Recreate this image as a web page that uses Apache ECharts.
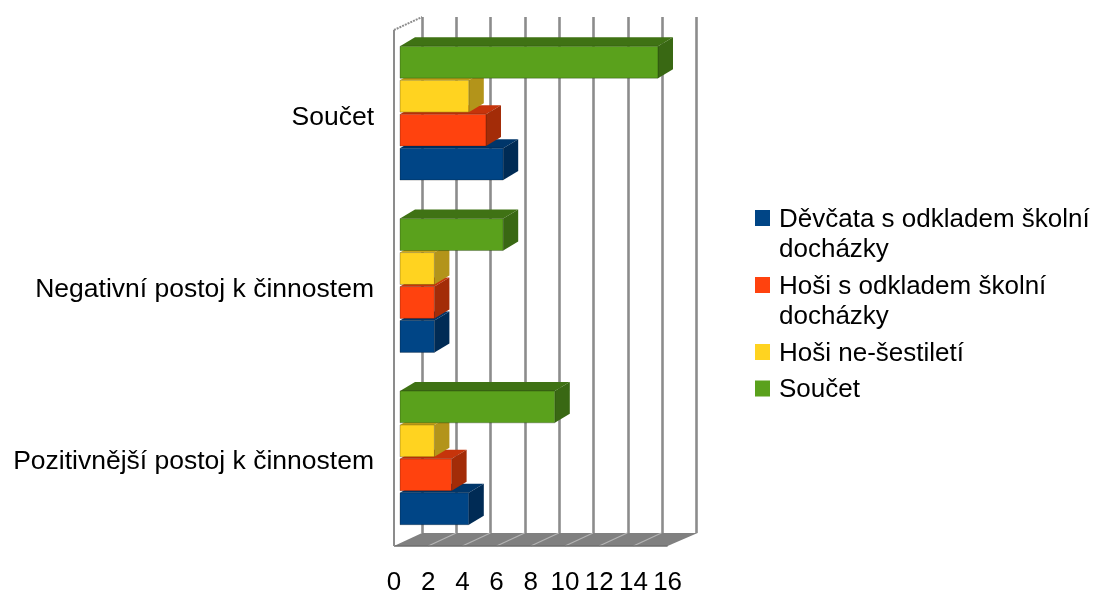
<!DOCTYPE html>
<html><head><meta charset="utf-8">
<style>html,body{margin:0;padding:0;background:#fff}#c{width:1094px;height:590px}</style>
<script src="https://cdn.jsdelivr.net/npm/echarts@6/dist/echarts.min.js"></script>
</head><body><div id="c"></div>
<script>
const categories = ['Pozitivnější postoj k činnostem', 'Negativní postoj k činnostem', 'Součet'];
const tickLabels = [0, 2, 4, 6, 8, 10, 12, 14, 16];
const devcata = [4, 2, 6];
const hosiOdklad = [3, 2, 5];
const hosiNeSest = [2, 2, 4];
const soucet = [9, 6, 15];
const seriesNames = ['Děvčata s odkladem školní docházky', 'Hoši s odkladem školní docházky', 'Hoši ne-šestiletí', 'Součet'];
const colors = ['#004586', '#ff420e', '#ffd320', '#5aa11c'];
const sideColors = ['#002b55', '#a32c08', '#b3941a', '#396813'];
const topColors = ['#00366a', '#c6340b', '#cda91a', '#3f7214'];
const font = '"Liberation Sans", Arial, sans-serif';
const txt = '#000';
const depthX = 28, depthY = -13;   // wall depth
const barDX = 15, barDY = -9;      // bar depth

function barRender(idx) {
  return function (params, api) {
    const cat = api.value(0), val = api.value(1);
    const band = api.size([0, 1])[1];
    const c = api.coord([0, cat]);
    const e = api.coord([val, cat]);
    const pitch = band * 0.197;
    const h = pitch * 0.94;
    const y = c[1] + (1.5 - idx) * pitch - h / 2;
    const x0 = c[0], x1 = e[0];
    const edge = 'rgba(0,0,0,0.25)';
    return {
      type: 'group',
      children: [
        { type: 'polygon', shape: { points: [[x0, y], [x0 + barDX, y + barDY], [x1 + barDX, y + barDY], [x1, y]] }, style: { fill: topColors[idx] } },
        { type: 'polygon', shape: { points: [[x1, y], [x1 + barDX, y + barDY], [x1 + barDX, y + h + barDY], [x1, y + h]] }, style: { fill: sideColors[idx] } },
        { type: 'rect', shape: { x: x0, y: y, width: x1 - x0, height: h }, style: { fill: colors[idx], stroke: edge, lineWidth: 1 } }
      ]
    };
  };
}
function barSeries(idx, arr) {
  return {
    type: 'custom', name: seriesNames[idx], xAxisIndex: 2, yAxisIndex: 2, z: 5,
    itemStyle: { color: colors[idx] },
    encode: { x: 1, y: 0 },
    data: arr.map((v, i) => [i, v]),
    renderItem: barRender(idx)
  };
}
function wallRender(params, api) {
  const a = api.coord([0, 0]), b = api.coord([16, 0]);
  const band = api.size([0, 1])[1];
  const bottom = a[1] + band / 2, top = bottom - band * 3;
  const x0 = a[0], x1 = b[0];
  const children = [
    { type: 'polygon', shape: { points: [[x0, bottom], [x0 + depthX, bottom + depthY], [x1 + depthX + 2, bottom + depthY], [x1, bottom]] }, style: { fill: '#808080' } }
  ];
  tickLabels.slice(1, -1).forEach(t => {
    const p = api.coord([t, 0])[0];
    children.push({ type: 'line', shape: { x1: p, y1: bottom, x2: p + depthX, y2: bottom + depthY }, style: { stroke: '#b4b4b4', lineWidth: 1.2 } });
  });
  children.push(
    { type: 'line', shape: { x1: x0, y1: bottom, x2: x1, y2: bottom }, style: { stroke: '#6e6e6e', lineWidth: 1.5 } },
    { type: 'line', shape: { x1: x0, y1: top, x2: x0, y2: bottom }, style: { stroke: '#8c8c8c', lineWidth: 2 } },
    { type: 'line', shape: { x1: x0, y1: top, x2: x0 + depthX, y2: top + depthY }, style: { stroke: '#8c8c8c', lineWidth: 2, lineDash: [2, 1] } }
  );
  return { type: 'group', children };
}
const option = {
  animation: false,
  backgroundColor: '#fff',
  textStyle: { fontFamily: font },
  grid: [
    { left: 394, top: 30, width: 273.6, height: 516, outerBoundsMode: 'none' },
    { left: 422, top: 17, width: 274.4, height: 516, outerBoundsMode: 'none' },
    { left: 400, top: 27, width: 275.2, height: 517, outerBoundsMode: 'none' },
    { left: 394, top: 32, width: 273.6, height: 516, outerBoundsMode: 'none' }
  ],
  xAxis: [
    { gridIndex: 0, type: 'value', min: 0, max: 16, interval: 2,
      axisLine: { show: false }, axisTick: { show: false }, splitLine: { show: false },
      axisLabel: { color: txt, fontSize: 26, fontFamily: font, margin: 24 } },
    { gridIndex: 1, type: 'value', min: 0, max: 16, interval: 2, axisLine: { show: false }, axisTick: { show: false }, axisLabel: { show: false },
      splitLine: { show: true, lineStyle: { color: '#8c8c8c', width: 2.6 } } },
    { gridIndex: 2, type: 'value', min: 0, max: 16, interval: 2, show: false },
    { gridIndex: 3, type: 'value', min: 0, max: 16, interval: 2, show: false }
  ],
  yAxis: [
    { gridIndex: 0, type: 'category', data: categories, show: false },
    { gridIndex: 1, type: 'category', data: categories, show: false },
    { gridIndex: 2, type: 'category', data: categories, show: false },
    { gridIndex: 3, type: 'category', data: categories, axisLine: { show: false }, axisTick: { show: false },
      axisLabel: { color: txt, fontSize: 26.5, fontFamily: font, margin: 20 } }
  ],
  legend: [
    { left: 750, top: 199.5, orient: 'vertical', itemWidth: 19, itemHeight: 60, itemGap: 7, selectedMode: false,
      icon: 'path://M0,5.5h15v16h-15zM0,0h19M0,60h19',
      data: seriesNames.slice(0, 2),
      formatter: n => n.replace(' docházky', '\ndocházky'),
      textStyle: { color: txt, fontSize: 26, fontFamily: font, lineHeight: 30 } },
    { left: 750, top: 333.5, orient: 'vertical', itemWidth: 19, itemHeight: 30, itemGap: 6.5, selectedMode: false,
      icon: 'path://M0,5.5h15v16h-15zM0,0h19M0,30h19',
      data: seriesNames.slice(2),
      textStyle: { color: txt, fontSize: 26, fontFamily: font, lineHeight: 30 } }
  ],
  series: [
    { type: 'custom', xAxisIndex: 0, yAxisIndex: 0, z: 1, silent: true, data: [[0, 0]], encode: { x: 0, y: 1 }, renderItem: wallRender },
    barSeries(0, devcata),
    barSeries(1, hosiOdklad),
    barSeries(2, hosiNeSest),
    barSeries(3, soucet)
  ]
};
const chart = echarts.init(document.getElementById('c'), null, { renderer: 'canvas' });
chart.setOption(option);
</script></body></html>
